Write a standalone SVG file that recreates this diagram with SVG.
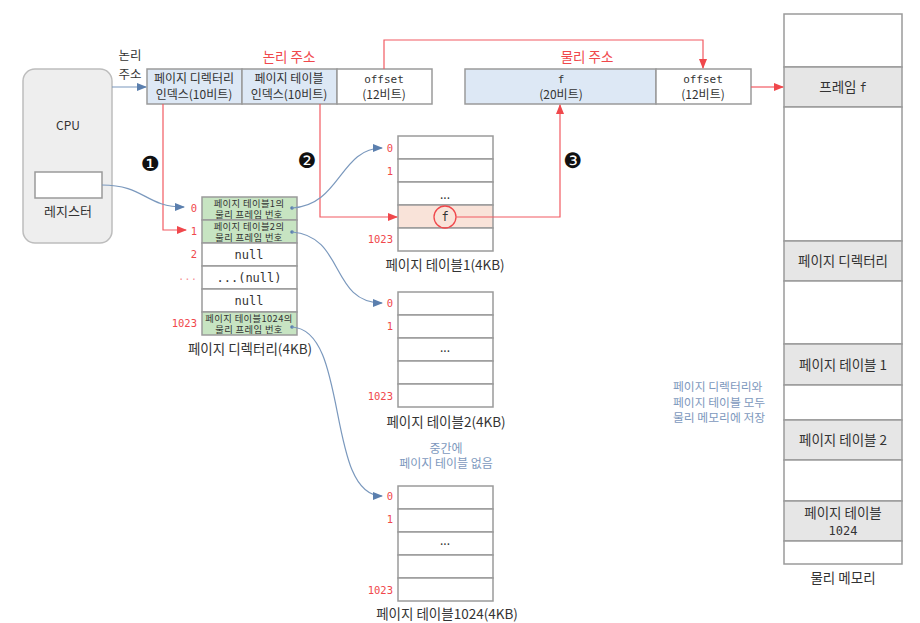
<svg xmlns="http://www.w3.org/2000/svg" width="920" height="623" viewBox="0 0 920 623">
<style>
.k{font-family:"Noto Sans CJK KR","DejaVu Sans",sans-serif;fill:#333}
.m{font-family:"DejaVu Sans Mono","Noto Sans CJK KR",monospace;fill:#333}
.s{font-family:"Noto Sans CJK KR","DejaVu Sans",sans-serif;fill:#333}
.c{text-anchor:middle}
.red{fill:#f0484c}
.note{fill:#7d98bd}
.box{stroke:#9a9a9a;stroke-width:1.5}
.rl{stroke:#f25a62;stroke-width:1.2;fill:none}
.bl{stroke:#7a98bd;stroke-width:1.2;fill:none}
.idx{font-family:"DejaVu Sans Mono",monospace;font-size:10.5px;fill:#f0484c;text-anchor:end}
.st{font-family:"DejaVu Sans",sans-serif;font-size:21px;text-anchor:middle;fill:#111}
.g{font-family:"Noto Sans CJK KR","DejaVu Sans",sans-serif;font-size:9.3px;letter-spacing:0.4px;fill:#333;text-anchor:middle}
</style>
<defs>
<marker id="ar" markerWidth="10" markerHeight="8" refX="9" refY="4" orient="auto" markerUnits="userSpaceOnUse"><path d="M0,0 L10,4 L0,8 z" fill="#f0484c"/></marker>
<marker id="ab" markerWidth="10" markerHeight="8" refX="9" refY="4" orient="auto" markerUnits="userSpaceOnUse"><path d="M0,0 L10,4 L0,8 z" fill="#5b7fae"/></marker>
</defs>

<g id="cpu">
<rect x="23" y="69" width="89" height="174" rx="12" fill="#eeeeee" stroke="#bdbdbd" stroke-width="1.5"/>
<text x="68" y="130" class="s c" font-size="12">CPU</text>
<rect x="35" y="172" width="67" height="26" fill="#fff" stroke="#9a9a9a" stroke-width="1.5"/>
<text x="68" y="216" class="s c" font-size="13">레지스터</text>
</g>

<g id="logical-address">
<text x="130" y="60" class="s c" font-size="12.5">논리</text>
<text x="130" y="79" class="s c" font-size="12.5">주소</text>
<text x="289" y="62" class="s c red" font-size="13.5">논리 주소</text>
<rect x="147" y="69" width="95" height="35" fill="#dde8f5" class="box"/>
<rect x="242" y="69" width="95" height="35" fill="#dde8f5" class="box"/>
<rect x="337" y="69" width="95" height="35" fill="#fff" class="box"/>
<text x="194" y="83" class="k c" font-size="12">페이지 디렉터리</text>
<text x="194" y="99" class="k c" font-size="12">인덱스(10비트)</text>
<text x="289" y="83" class="k c" font-size="12">페이지 테이블</text>
<text x="289" y="99" class="k c" font-size="12">인덱스(10비트)</text>
<text x="384" y="83" class="m c" font-size="11">offset</text>
<text x="384" y="99" class="k c" font-size="12">(12비트)</text>
</g>

<g id="physical-address">
<text x="587" y="62" class="s c red" font-size="13.5">물리 주소</text>
<rect x="465" y="69" width="191" height="35" fill="#dde8f5" class="box"/>
<rect x="656" y="69" width="95" height="35" fill="#fff" class="box"/>
<text x="561" y="83" class="m c" font-size="11">f</text>
<text x="561" y="99" class="k c" font-size="12">(20비트)</text>
<text x="703" y="83" class="m c" font-size="11">offset</text>
<text x="703" y="99" class="k c" font-size="12">(12비트)</text>
</g>

<g id="page-directory">
<rect x="202" y="197" width="95" height="23" fill="#c7e4c2" class="box"/>
<rect x="202" y="220" width="95" height="23" fill="#c7e4c2" class="box"/>
<rect x="202" y="243" width="95" height="23" fill="#fff" class="box"/>
<rect x="202" y="266" width="95" height="23" fill="#fff" class="box"/>
<rect x="202" y="289" width="95" height="23" fill="#fff" class="box"/>
<rect x="202" y="312" width="95" height="23" fill="#c7e4c2" class="box"/>
<text class="g"><tspan x="249" y="206.5">페이지 테이블1의</tspan><tspan x="249" y="218">물리 프레임 번호</tspan></text>
<text class="g"><tspan x="249" y="229.5">페이지 테이블2의</tspan><tspan x="249" y="241">물리 프레임 번호</tspan></text>
<text x="249" y="259" class="m c" font-size="12">null</text>
<text x="249" y="282" class="m c" font-size="12">...(null)</text>
<text x="249" y="305" class="m c" font-size="12">null</text>
<text class="g"><tspan x="249" y="321.5">페이지 테이블1024의</tspan><tspan x="249" y="333">물리 프레임 번호</tspan></text>
<circle cx="292" cy="208" r="1.8" fill="#5b7fae"/>
<circle cx="292" cy="232" r="1.8" fill="#5b7fae"/>
<circle cx="292" cy="327" r="1.8" fill="#5b7fae"/>
<text x="197" y="212" class="idx">0</text>
<text x="197" y="235" class="idx">1</text>
<text x="197" y="258" class="idx">2</text>
<text x="197" y="280" class="idx" fill-opacity="0.6">...</text>
<text x="197" y="327" class="idx">1023</text>
<text x="250" y="354" class="k c" font-size="13.5">페이지 디렉터리(4KB)</text>
</g>

<g id="page-table-1">
<rect x="398" y="136" width="95" height="23" fill="#fff" class="box"/>
<rect x="398" y="159" width="95" height="23" fill="#fff" class="box"/>
<rect x="398" y="182" width="95" height="23" fill="#fff" class="box"/>
<rect x="398" y="205" width="95" height="23" fill="#f9e3d9" class="box"/>
<rect x="398" y="228" width="95" height="23" fill="#fff" class="box"/>
<text x="445" y="199" class="k c" font-size="12">...</text>
<circle cx="445" cy="217" r="11" fill="none" stroke="#f0484c" stroke-width="1.3"/>
<text x="445" y="221" class="m c" font-size="12">f</text>
<text x="393" y="152" class="idx">0</text>
<text x="393" y="175" class="idx">1</text>
<text x="393" y="243" class="idx">1023</text>
<text x="445" y="270" class="k c" font-size="13.5">페이지 테이블1(4KB)</text>
</g>

<g id="page-table-2">
<rect x="398" y="292" width="95" height="23" fill="#fff" class="box"/>
<rect x="398" y="315" width="95" height="23" fill="#fff" class="box"/>
<rect x="398" y="338" width="95" height="23" fill="#fff" class="box"/>
<rect x="398" y="361" width="95" height="23" fill="#fff" class="box"/>
<rect x="398" y="384" width="95" height="23" fill="#fff" class="box"/>
<text x="445" y="352" class="k c" font-size="12">...</text>
<text x="393" y="307" class="idx">0</text>
<text x="393" y="330" class="idx">1</text>
<text x="393" y="400" class="idx">1023</text>
<text x="446" y="427" class="k c" font-size="13.5">페이지 테이블2(4KB)</text>
</g>

<g id="gap-note">
<text x="446" y="453" class="s c note" font-size="12">중간에</text>
<text x="446" y="468" class="s c note" font-size="12">페이지 테이블 없음</text>
</g>

<g id="page-table-1024">
<rect x="398" y="486" width="95" height="23" fill="#fff" class="box"/>
<rect x="398" y="509" width="95" height="23" fill="#fff" class="box"/>
<rect x="398" y="532" width="95" height="23" fill="#fff" class="box"/>
<rect x="398" y="555" width="95" height="23" fill="#fff" class="box"/>
<rect x="398" y="578" width="95" height="23" fill="#fff" class="box"/>
<text x="445" y="545" class="k c" font-size="12">...</text>
<text x="393" y="500" class="idx">0</text>
<text x="393" y="523" class="idx">1</text>
<text x="393" y="594" class="idx">1023</text>
<text x="447" y="619" class="k c" font-size="13.5">페이지 테이블1024(4KB)</text>
</g>

<g id="physical-memory">
<rect x="784" y="14" width="118" height="53" fill="#fff" class="box"/>
<rect x="784" y="67" width="118" height="40" fill="#e6e6e6" class="box"/>
<rect x="784" y="107" width="118" height="134" fill="#fff" class="box"/>
<rect x="784" y="241" width="118" height="40" fill="#e6e6e6" class="box"/>
<rect x="784" y="281" width="118" height="63" fill="#fff" class="box"/>
<rect x="784" y="344" width="118" height="41" fill="#e6e6e6" class="box"/>
<rect x="784" y="385" width="118" height="35" fill="#fff" class="box"/>
<rect x="784" y="420" width="118" height="40" fill="#e6e6e6" class="box"/>
<rect x="784" y="460" width="118" height="41" fill="#fff" class="box"/>
<rect x="784" y="501" width="118" height="40" fill="#e6e6e6" class="box"/>
<rect x="784" y="541" width="118" height="23" fill="#fff" class="box"/>
<text x="843" y="92" class="k c" font-size="13.5">프레임 <tspan class="m" font-size="12">f</tspan></text>
<text x="843" y="266" class="k c" font-size="13.5">페이지 디렉터리</text>
<text x="843" y="370" class="k c" font-size="13.5">페이지 테이블 1</text>
<text x="843" y="445" class="k c" font-size="13.5">페이지 테이블 2</text>
<text class="k c" font-size="13.5"><tspan x="843" y="518">페이지 테이블</tspan><tspan x="843" y="535" class="m" font-size="12">1024</tspan></text>
<text x="843" y="583" class="k c" font-size="13.5">물리 메모리</text>
</g>

<g id="memory-note">
<text class="s note" font-size="11.8"><tspan x="673" y="391">페이지 디렉터리와</tspan><tspan x="673" y="407">페이지 테이블 모두</tspan><tspan x="673" y="422">물리 메모리에 저장</tspan></text>
</g>

<g id="steps">
<text x="150" y="171" class="st">❶</text>
<text x="307" y="168" class="st">❷</text>
<text x="573" y="168" class="st">❸</text>
</g>

<g id="connectors">
<path d="M112,87 H146" class="bl" marker-end="url(#ab)"/>
<path d="M163,104 V230 H186" class="rl" marker-end="url(#ar)"/>
<path d="M320,104 V217 H397" class="rl" marker-end="url(#ar)"/>
<path d="M456,217 H560 V105" class="rl" marker-end="url(#ar)"/>
<path d="M384,69 V40 H703 V68" class="rl" marker-end="url(#ar)"/>
<path d="M751,87 H783" class="rl" marker-end="url(#ar)"/>
<path d="M102,185 C145,185 145,207 184,207" class="bl" marker-end="url(#ab)"/>
<path d="M292,208 C340,206 340,148 382,148" class="bl" marker-end="url(#ab)"/>
<path d="M292,232 C345,236 330,303 382,303" class="bl" marker-end="url(#ab)"/>
<path d="M292,327 C350,330 325,496 382,496" class="bl" marker-end="url(#ab)"/>
</g>
</svg>
